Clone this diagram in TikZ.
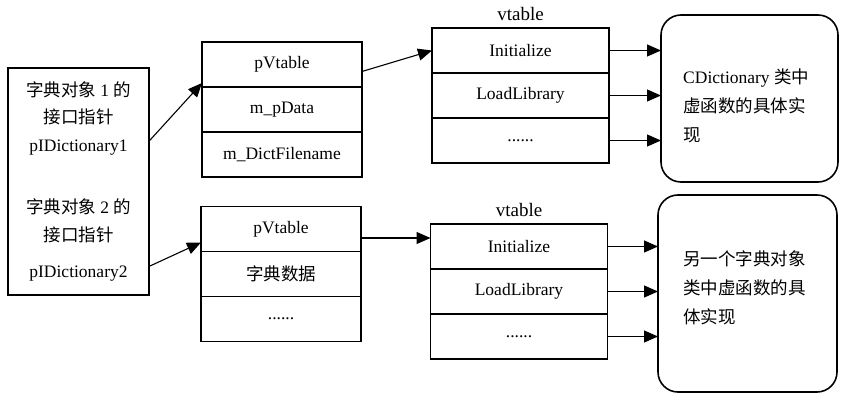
\documentclass[tikz,border=0pt]{standalone}
\usepackage{fontspec}
\setmainfont{Liberation Serif}
\newfontfamily\cjk{Noto Sans CJK SC}
\usetikzlibrary{positioning,calc,arrows.meta}

\begin{document}
\begin{tikzpicture}[x=1pt, y=-1pt,
    every node/.style={font=\fontsize{17.5}{27.5}\selectfont},
    cell/.style={draw, line width=1.6pt, minimum width=160pt, minimum height=45pt, inner sep=0pt, outer sep=0pt},
    vcell/.style={cell, minimum width=177pt},
    implbox/.style={draw, line width=1.6pt, rounded corners=20pt, inner sep=0pt, outer sep=0pt},
    impltext/.style={anchor=north west, align=left, inner sep=0pt, font=\fontsize{17.5}{29}\selectfont},
    arr/.style={line width=1.1pt, -{Triangle[length=14pt,width=12pt]}}]
    \useasboundingbox (0,0) rectangle (848,403);

    % interface pointers
    \node[draw, line width=1.6pt, minimum width=141pt, minimum height=227pt, align=center] (ptr) at (78.5,181.5)
        {{\cjk 字典对象} 1 {\cjk 的}\\ {\cjk 接口指针}\\ pIDictionary1\\[35pt]
         {\cjk 字典对象} 2 {\cjk 的}\\ {\cjk 接口指针}\\[9pt] pIDictionary2};

    % dictionary objects
    \node[cell] (o1a) at (282,64.5) {pVtable};
    \node[cell, below=0pt of o1a] (o1b) {m\_pData};
    \node[cell, below=0pt of o1b] (o1c) {m\_DictFilename};

    \node[cell] (o2a) at (281,229) {pVtable};
    \node[cell, below=0pt of o2a] (o2b) {\cjk 字典数据};
    \node[cell, below=0pt of o2b] (o2c) {......};

    % vtables
    \node[vcell] (v1a) at (520.5,50.5) {Initialize};
    \node[vcell, below=0pt of v1a] (v1b) {LoadLibrary};
    \node[vcell, below=0pt of v1b] (v1c) {......};
    \node[above=7pt of v1a, inner sep=0pt, font=\fontsize{19}{20}\selectfont] (vt1) {vtable};

    \node[vcell] (v2a) at (519,246.5) {Initialize};
    \node[vcell, below=0pt of v2a] (v2b) {LoadLibrary};
    \node[vcell, below=0pt of v2b] (v2c) {......};
    \node[above=7pt of v2a, inner sep=0pt, font=\fontsize{19}{20}\selectfont] (vt2) {vtable};

    % implementations
    \node[implbox, minimum width=177pt, minimum height=167pt] (impl1) at (749.5,98.5) {};
    \node[impltext] (txt1) at (683,69) {CDictionary {\cjk 类中}\\{\cjk 虚函数的具体实}\\{\cjk 现}};
    \node[implbox, minimum width=179pt, minimum height=197pt] (impl2) at (747.5,293.5) {};
    \node[impltext] (txt2) at (683,250) {{\cjk 另一个字典对象}\\{\cjk 类中虚函数的具}\\{\cjk 体实现}};

    % pointers
    \draw[arr] ($(ptr.north east)!0.32!(ptr.south east)$) -- ([yshift=4pt]o1a.south west);
    \draw[arr] ($(ptr.north east)!0.87!(ptr.south east)$) -- ([yshift=9pt]o2a.south west);
    \draw[arr] ([yshift=-7pt]o1a.east) -- (v1a.west);
    \draw[arr] ([yshift=-9pt]o2a.east) -- ([yshift=-9pt]o2a.east -| v2a.west);
    \foreach \r in {v1a,v1b,v1c} \draw[arr] (\r.east) -- (\r.east -| impl1.west);
    \foreach \r in {v2a,v2b,v2c} \draw[arr] (\r.east) -- (\r.east -| impl2.west);
\end{tikzpicture}
\end{document}
